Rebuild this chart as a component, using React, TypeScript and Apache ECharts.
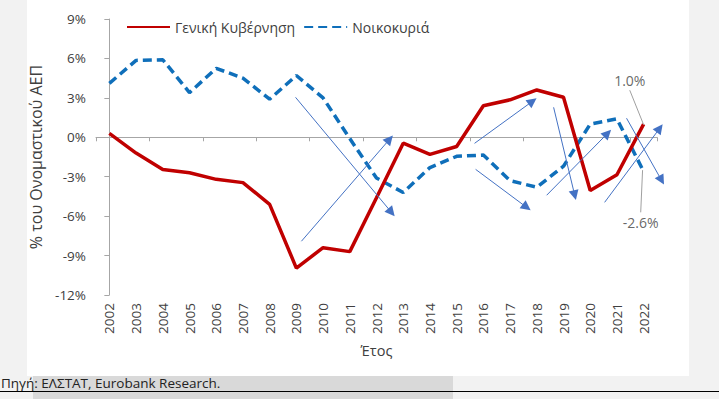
import React, { useEffect, useRef } from "react";
import * as echarts from "echarts";

const years = ["2002","2003","2004","2005","2006","2007","2008","2009","2010","2011","2012","2013","2014","2015","2016","2017","2018","2019","2020","2021","2022"];
const generalGov = [0.3, -1.2, -2.45, -2.7, -3.2, -3.45, -5.1, -9.95, -8.4, -8.7, -4.6, -0.45, -1.3, -0.7, 2.4, 2.85, 3.6, 3.05, -4.05, -2.85, 1.0];
const households = [4.1, 5.85, 5.9, 3.4, 5.25, 4.5, 2.9, 4.7, 3.0, -0.1, -3.1, -4.2, -2.3, -1.45, -1.35, -3.3, -3.8, -2.2, 1.0, 1.4, -2.6];
const seriesNames = ["Γενική Κυβέρνηση", "Νοικοκυριά"];
const yTicks = { min: -12, max: 9, interval: 3 };
// annotation arrows in (category index, %) space: [x1, y1, x2, y2]
const arrows = [
  [6.97, 3.04, 10.56, -5.71],
  [7.19, -7.91, 10.49, -0.15],
  [13.67, -0.46, 15.84, 2.74],
  [13.71, -2.44, 15.62, -5.33],
  [16.63, 2.28, 17.42, -4.41],
  [16.37, -4.41, 18.65, 0.3],
  [19.36, 1.45, 20.67, -3.27],
  [18.54, -4.95, 20.6, 0.68],
];
// callouts for the last values: [labelX, labelY, leaderX1, leaderY1, leaderX2, leaderY2]
const callouts = [
  [19.48, 4.34, 19.48, 3.58, 20.0, 0.95],
  [19.89, -6.47, 19.89, -5.71, 19.96, -2.5],
];
const sourceText = "Πηγή: ΕΛΣΤΑΤ, Eurobank Research.";

const FONT = "'Open Sans', sans-serif";
const TXT = "#404040";
const AX = "#a6a6a6";

export default function App() {
  const ref = useRef<HTMLDivElement>(null);
  useEffect(() => {
    if (!ref.current) return;
    const chart = echarts.init(ref.current, null, { renderer: "svg" });
    const lastVals = [generalGov[generalGov.length - 1], households[households.length - 1]];
    chart.setOption({
      animation: false,
      backgroundColor: "#f2f2f2",
      textStyle: { fontFamily: FONT },
      graphic: [
        { type: "rect", shape: { x: 27, y: 0, width: 662, height: 376 }, style: { fill: "#ffffff" }, z: -10, silent: true },
        { type: "rect", shape: { x: 33, y: 376, width: 420, height: 23 }, style: { fill: "#d9d9d9" }, z: -10, silent: true },
        { type: "line", shape: { x1: 0, y1: 391.5, x2: 719, y2: 391.5 }, style: { stroke: "#000", lineWidth: 1 }, z: -5, silent: true },
        { type: "text", x: 1, y: 383, style: { text: sourceText, font: `13.5px ${FONT}`, fill: "#222", textVerticalAlign: "middle" } },
      ],
      legend: {
        left: 121,
        top: 15,
        itemWidth: 43,
        itemHeight: 14,
        itemGap: 8,
        itemStyle: { opacity: 0 },
        textStyle: { fontSize: 14, color: TXT, fontFamily: FONT },
        data: seriesNames,
      },
      grid: { left: 96, right: 62, top: 19, bottom: 104, containLabel: false },
      xAxis: [
        {
          type: "category",
          data: years,
          position: "bottom",
          axisLine: { show: false, onZero: false },
          axisTick: { show: false },
          axisLabel: { rotate: 90, color: TXT, fontSize: 13.5, fontFamily: FONT, margin: 8, interval: 0 },
          name: "Έτος",
          nameLocation: "middle",
          nameGap: 48,
          nameTextStyle: { color: TXT, fontSize: 14.5, fontFamily: FONT },
        },
        {
          type: "category",
          data: years,
          position: "bottom",
          axisLine: { show: true, onZero: true, lineStyle: { color: AX, width: 1 } },
          axisTick: { show: true, length: 4, lineStyle: { color: AX } },
          axisLabel: { show: false },
        },
        { type: "value", min: -0.5, max: 20.5, show: false },
      ],
      yAxis: {
        type: "value",
        min: yTicks.min,
        max: yTicks.max,
        interval: yTicks.interval,
        axisLine: { show: true, lineStyle: { color: AX } },
        axisTick: { show: true, length: 5, lineStyle: { color: AX } },
        splitLine: { show: false },
        axisLabel: { formatter: "{value}%", color: TXT, fontSize: 13.5, fontFamily: FONT, margin: 10 },
        name: "% του Ονομαστικού ΑΕΠ",
        nameLocation: "middle",
        nameGap: 47,
        nameTextStyle: { color: TXT, fontSize: 16, fontFamily: FONT },
      },
      series: [
        {
          name: seriesNames[0],
          type: "line",
          data: generalGov,
          xAxisIndex: 0,
          symbol: "none",
          lineStyle: { color: "#c00000", width: 3.5 },
          itemStyle: { color: "#c00000" },
          z: 3,
        },
        {
          name: seriesNames[1],
          type: "line",
          data: households,
          xAxisIndex: 0,
          symbol: "none",
          lineStyle: { color: "#0f6fba", width: 3.5, type: [9, 5] },
          itemStyle: { color: "#0f6fba" },
          z: 2,
        },
        {
          type: "lines",
          coordinateSystem: "cartesian2d",
          xAxisIndex: 2,
          yAxisIndex: 0,
          clip: false,
          symbol: ["none", "triangle"],
          symbolSize: [0, 10],
          lineStyle: { color: "#4472c4", width: 1, opacity: 1, curveness: 0 },
          data: arrows.map((a) => ({ coords: [[a[0], a[1]], [a[2], a[3]]] })),
          z: 4,
        },
        {
          type: "lines",
          coordinateSystem: "cartesian2d",
          xAxisIndex: 2,
          yAxisIndex: 0,
          clip: false,
          symbol: ["none", "none"],
          lineStyle: { color: "#a0a0a0", width: 1, opacity: 1 },
          data: callouts.map((c) => ({ coords: [[c[2], c[3]], [c[4], c[5]]] })),
          z: 4,
        },
        {
          type: "scatter",
          xAxisIndex: 2,
          yAxisIndex: 0,
          symbolSize: 0,
          clip: false,
          data: callouts.map((c, i) => [c[0], c[1], `${lastVals[i].toFixed(1)}%`]),
          label: {
            show: true,
            position: "inside",
            formatter: (p: any) => p.value[2],
            color: TXT,
            fontSize: 14,
            fontFamily: FONT,
          },
          z: 5,
        },
      ],
    });
    return () => chart.dispose();
  }, []);
  return <div ref={ref} style={{ position: "fixed", left: 0, top: 0, width: 719, height: 399 }} />;
}
